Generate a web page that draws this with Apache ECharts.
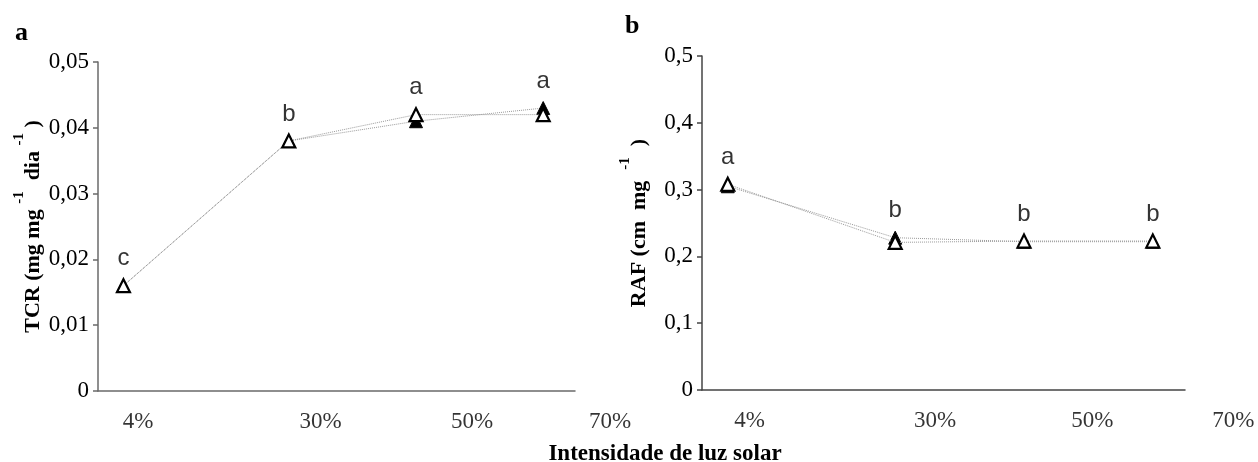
<!DOCTYPE html>
<html>
<head>
<meta charset="utf-8">
<script src="https://cdn.jsdelivr.net/npm/echarts@6/dist/echarts.min.js"></script>
<style>html,body{margin:0;padding:0;background:#fff}#c{width:1258px;height:462px}</style>
</head>
<body>
<div id="c"></div>
<script>
// ---- data ----
const lightLevels = [4, 30, 50, 70];               // % sunlight (x value of each point)
const xTickLabels = ['4%', '30%', '50%', '70%'];
const xTickPosA = [6.3, 35.0, 58.8, 80.5];          // where the tick labels sit (axis units)
const xTickPosB = [7.4, 36.2, 60.6, 82.5];
const tcrOpen   = [0.016, 0.038, 0.042, 0.042];
const tcrFilled = [0.016, 0.038, 0.041, 0.043];
const tcrLetters = ['c', 'b', 'a', 'a'];
const rafOpen   = [0.308, 0.221, 0.223, 0.223];
const rafFilled = [0.305, 0.228, 0.222, 0.222];
const rafLetters = ['a', 'b', 'b', 'b'];
const yTicksA = [0, 0.01, 0.02, 0.03, 0.04, 0.05];
const yTicksB = [0, 0.1, 0.2, 0.3, 0.4, 0.5];

const serif = 'Liberation Serif';
const sans = 'Liberation Sans';

function pts(vals) { return lightLevels.map((x, i) => [x, vals[i]]); }
function tops(a, b) { return lightLevels.map((x, i) => [x, Math.max(a[i], b[i])]); }
function fmt(dec) { return v => (Math.abs(v) < 1e-9 ? '0' : v.toFixed(dec).replace('.', ',')); }

function lineSeries(idx, vals, filled) {
  return {
    type: 'line', xAxisIndex: idx, yAxisIndex: idx, data: pts(vals),
    symbol: 'triangle', symbolSize: 13, showSymbol: true,
    lineStyle: { color: '#9a9a9a', width: 1, type: 'dotted' },
    itemStyle: filled ? { color: '#000', borderColor: '#000', borderWidth: 1 }
                      : { color: '#fff', borderColor: '#000', borderWidth: 2.2 },
    z: filled ? 3 : 4
  };
}
function letterSeries(idx, a, b, letters) {
  return {
    type: 'scatter', xAxisIndex: idx, yAxisIndex: idx, data: tops(a, b),
    symbolSize: 0, silent: true, clip: false,
    label: { show: true, position: 'top', distance: 15, formatter: p => letters[p.dataIndex],
             fontFamily: sans, fontSize: 24, color: '#000' }
  };
}
function tickSeries(idx, pos) {
  return {
    type: 'scatter', xAxisIndex: idx, yAxisIndex: idx, data: pos.map(p => [p, 0]),
    symbolSize: 0, silent: true, clip: false,
    label: { show: true, position: 'bottom', distance: 19, formatter: p => xTickLabels[p.dataIndex],
             fontFamily: serif, fontSize: 23, color: '#000' }
  };
}
function xAxisCfg(idx, color) {
  return { type: 'value', gridIndex: idx, min: 0, max: 75,
    axisLine: { show: true, lineStyle: { color: color, width: 1.5 } },
    axisTick: { show: false }, axisLabel: { show: false }, splitLine: { show: false } };
}
function yAxisCfg(idx, ticks, dec, color, name, gap) {
  return { type: 'value', gridIndex: idx, min: ticks[0], max: ticks[ticks.length - 1],
    interval: ticks[1] - ticks[0],
    axisLine: { show: true, lineStyle: { color: color, width: 1.5 } },
    axisTick: { show: true, length: 5, lineStyle: { color: color, width: 1.5 } },
    axisLabel: { formatter: fmt(dec), fontFamily: serif, fontSize: 23, color: '#000', margin: 9 },
    splitLine: { show: false },
    name: name, nameLocation: 'middle', nameRotate: 90, nameGap: gap,
    nameTextStyle: { fontFamily: serif, fontWeight: 'bold', fontSize: 22, color: '#000',
      rich: {
        t: { fontFamily: serif, fontWeight: 'bold', fontSize: 22, color: '#000', lineHeight: 32, verticalAlign: 'bottom' },
        s: { fontFamily: serif, fontWeight: 'bold', fontSize: 15, color: '#000', lineHeight: 15, verticalAlign: 'top' }
      } }
  };
}

const chart = echarts.init(document.getElementById('c'), null, { renderer: 'canvas' });
chart.setOption({
  animation: false,
  backgroundColor: '#fff',
  title: [
    { text: 'a', left: 10, top: 15, textStyle: { fontFamily: serif, fontWeight: 'bold', fontSize: 26, color: '#000' } },
    { text: 'b', left: 620, top: 8, textStyle: { fontFamily: serif, fontWeight: 'bold', fontSize: 26, color: '#000' } },
    { text: 'Intensidade de luz solar', left: 660, top: 438, textAlign: 'center',
      textStyle: { fontFamily: serif, fontWeight: 'bold', fontSize: 23, color: '#000' } }
  ],
  grid: [
    { left: 98, top: 62, width: 477, height: 329 },
    { left: 702, top: 56, width: 483, height: 334 }
  ],
  xAxis: [xAxisCfg(0, '#6a6a6a'), xAxisCfg(1, '#444')],
  yAxis: [
    yAxisCfg(0, yTicksA, 2, '#6a6a6a', '{t|TCR (mg mg }{s|-1}{t|  dia }{s|-1}{t| )}', 54),
    yAxisCfg(1, yTicksB, 1, '#444', '{t|RAF (cm  mg  }{s|-1}{t|  )}', 52)
  ],
  series: [
    lineSeries(0, tcrFilled, true), lineSeries(0, tcrOpen, false),
    letterSeries(0, tcrOpen, tcrFilled, tcrLetters), tickSeries(0, xTickPosA),
    lineSeries(1, rafFilled, true), lineSeries(1, rafOpen, false),
    letterSeries(1, rafOpen, rafFilled, rafLetters), tickSeries(1, xTickPosB)
  ]
});
</script>
</body>
</html>
